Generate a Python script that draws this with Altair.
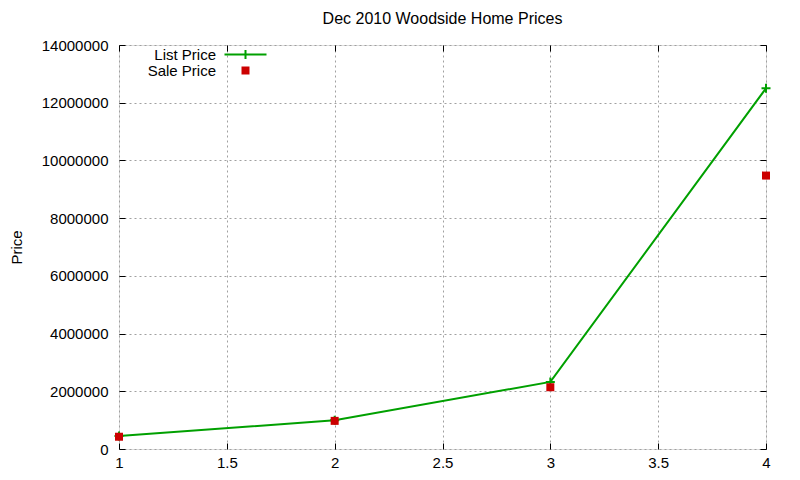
import altair as alt
import pandas as pd

# ---- data ----
x_vals = [1, 2, 3, 4]
list_price = [450000, 995000, 2325000, 12500000]
sale_price = [425000, 975000, 2140000, 9475000]
series_names = ["List Price", "Sale Price"]
x_ticks = [1, 1.5, 2, 2.5, 3, 3.5, 4]
y_ticks = [0, 2000000, 4000000, 6000000, 8000000, 10000000, 12000000, 14000000]

GREEN = "#00a000"
RED = "#cc0000"
FONT = "Liberation Sans"
FS = 15
W, H = 647, 404

list_df = pd.DataFrame({"n": x_vals, "price": list_price, "series": series_names[0]})
sale_df = pd.DataFrame({"n": x_vals, "price": sale_price, "series": series_names[1]})

x_scale = alt.Scale(domain=[1, 4], nice=False, zero=False)
y_scale = alt.Scale(domain=[0, 14000000], nice=False)

grid_common = dict(gridColor="#a0a0a0", gridDash=[2, 3], gridWidth=1)

# main axes: labels + grid
x_main = alt.Axis(orient="bottom", values=x_ticks, format="~g", grid=True, ticks=False,
                  domain=False, labelFontSize=FS, labelFont=FONT, labelColor="black",
                  labelPadding=6, labelFlush=False, labelOverlap=False, title=None,
                  **grid_common)
y_main = alt.Axis(orient="left", values=y_ticks, format="d", grid=True, ticks=False,
                  domain=False, labelFontSize=FS, labelFont=FONT, labelColor="black",
                  labelPadding=11, labelOverlap=False, title="Price",
                  titleFont=FONT, titleFontSize=FS, titleFontWeight="normal",
                  titleColor="black", titlePadding=17, **grid_common)

tick_common = dict(labels=False, domain=False, grid=False, ticks=True, tickSize=6,
                   tickColor="black", tickWidth=1, title=None)
# inward ticks on bottom/left edges
x_in_bottom = alt.Axis(orient="top", offset=-H, values=x_ticks, **tick_common)
y_in_left = alt.Axis(orient="right", offset=-W, values=y_ticks, **tick_common)
# inward ticks on top/right edges (mirror)
x_in_top = alt.Axis(orient="bottom", offset=-H, values=x_ticks, **tick_common)
y_in_right = alt.Axis(orient="left", offset=-W, values=y_ticks, **tick_common)

line = alt.Chart(list_df).mark_line(color=GREEN, strokeWidth=2).encode(
    x=alt.X("n:Q", scale=x_scale, axis=x_main),
    y=alt.Y("price:Q", scale=y_scale, axis=y_main),
)

plus = alt.Chart(list_df).mark_point(
    shape="M-1,0H1M0,-1V1", size=81, filled=False, color=GREEN, strokeWidth=2, opacity=1
).encode(
    x=alt.X("n:Q", scale=x_scale, axis=x_in_bottom),
    y=alt.Y("price:Q", scale=y_scale, axis=y_in_left),
)

legend_line_path = "M-5.25,-0.25H5.25V0.25H-5.25Z M-0.25,-1.1H0.25V1.1H-0.25Z"

squares = alt.Chart(sale_df).mark_point(filled=True, size=64, opacity=1, strokeWidth=0).encode(
    x=alt.X("n:Q", scale=x_scale, axis=x_in_top),
    y=alt.Y("price:Q", scale=y_scale, axis=y_in_right),
    color=alt.Color("series:N", scale=alt.Scale(domain=series_names, range=[GREEN, RED]),
                    legend=alt.Legend(orient="none", legendX=119, legendY=2, title=None,
                                      labelAlign="right", labelOffset={"expr": "-37"},
                                      labelFont=FONT, labelFontSize=FS, labelColor="black",
                                      symbolSize=64, symbolStrokeWidth=0, padding=0,
                                      rowPadding=0, symbolOpacity=1)),
    shape=alt.Shape("series:N", scale=alt.Scale(domain=series_names,
                                                range=[legend_line_path, "square"])),
)

chart = alt.layer(line, plus, squares).resolve_axis(x="independent", y="independent").properties(
    width=W, height=H,
    title=alt.TitleParams("Dec 2010 Woodside Home Prices", font=FONT, fontSize=16,
                          fontWeight="normal", color="black", anchor="middle", offset=11),
    autosize=alt.AutoSizeParams(type="none"),
    padding={"left": 111, "top": 37, "right": 26, "bottom": 23},
).configure_view(stroke="black", strokeWidth=1).configure(background="white")

chart.save("out.html", embed_options={"renderer": "svg", "actions": False})
